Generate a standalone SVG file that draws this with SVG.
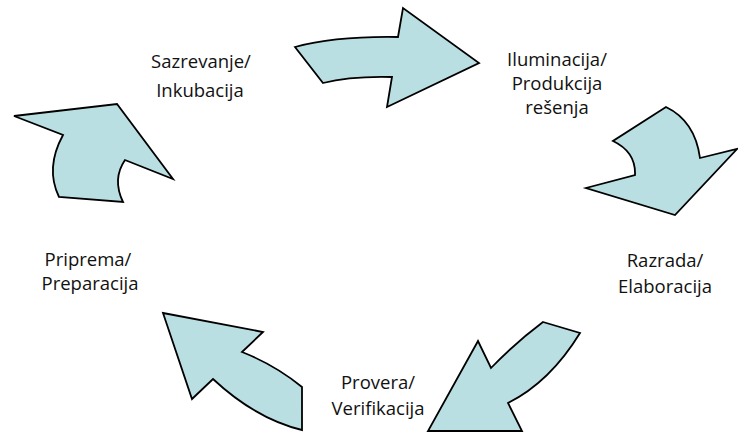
<svg xmlns="http://www.w3.org/2000/svg" width="738" height="432" viewBox="0 0 738 432">
<style>
.arr{fill:#B9DFE2;stroke:#000;stroke-width:1.8;stroke-linejoin:miter}
.t{font-family:"Open Sans","Noto Sans",sans-serif;font-size:18.5px;fill:#111;text-anchor:middle}
</style>
<rect width="738" height="432" fill="#fff"/>
<g id="connectors">
<path id="arrow-top" class="arr" d="M295,47 Q335,36 398,37 L403,8 L479,63 L387,107 L392,77 Q350,76 323,83 Z"/>
<path id="arrow-right" class="arr" d="M666,107 Q695,121 700,158 L737,149 L675,215 L586,188 L635,175 Q636,152 613,141 Z"/>
<path id="arrow-bottom-right" class="arr" d="M543,322 L580,333 Q550,382 508,403 L522,431 L428,431 L478,341 L491,368 Q515,343 543,322 Z"/>
<path id="arrow-bottom-left" class="arr" d="M163,313 L263,332 L242,352 Q275,365 302,387 L302,430 Q256,419 213,379 L192,399 Z"/>
<path id="arrow-left" class="arr" d="M14,116 L117,104 L173,179 L125,160 Q112,179 123,202 L59,197 Q45,168 63,135 Z"/>
</g>
<g id="node-sazrevanje"><text class="t" x="201" y="68">Sazrevanje/</text><text class="t" x="200" y="97">Inkubacija</text></g>
<g id="node-iluminacija"><text class="t" x="557" y="66">Iluminacija/</text><text class="t" x="557" y="90">Produkcija</text><text class="t" x="557" y="114">rešenja</text></g>
<g id="node-razrada"><text class="t" x="665" y="267">Razrada/</text><text class="t" x="665" y="293">Elaboracija</text></g>
<g id="node-provera"><text class="t" x="378" y="389">Provera/</text><text class="t" x="378" y="415">Verifikacija</text></g>
<g id="node-priprema"><text class="t" x="88" y="266">Priprema/</text><text class="t" x="90" y="290">Preparacija</text></g>
</svg>
